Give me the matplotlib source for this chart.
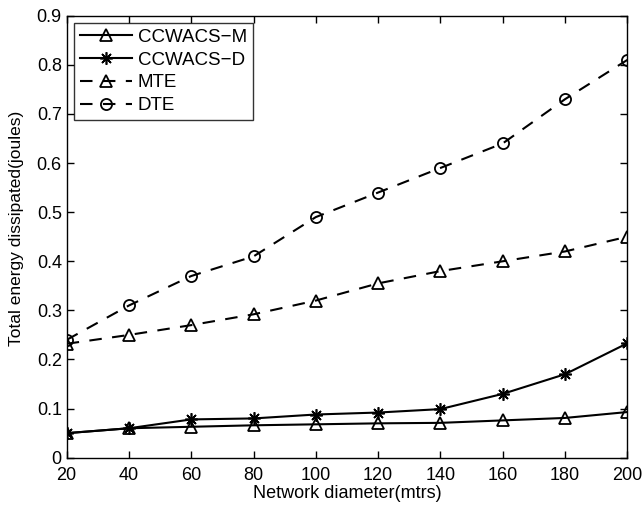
import matplotlib
matplotlib.use("Agg")
import matplotlib.pyplot as plt

plt.rcParams['font.family'] = ['Liberation Sans', 'DejaVu Sans']

x = [20, 40, 60, 80, 100, 120, 140, 160, 180, 200]
ccwacs_m = [0.050, 0.060, 0.063, 0.066, 0.068, 0.070, 0.071, 0.076, 0.081, 0.093]
ccwacs_d = [0.050, 0.060, 0.078, 0.080, 0.088, 0.092, 0.099, 0.130, 0.170, 0.233]
mte = [0.232, 0.250, 0.270, 0.292, 0.320, 0.355, 0.380, 0.400, 0.420, 0.450]
dte = [0.240, 0.310, 0.370, 0.410, 0.490, 0.540, 0.590, 0.640, 0.730, 0.810]
yticks = [0, 0.1, 0.2, 0.3, 0.4, 0.5, 0.6, 0.7, 0.8, 0.9]
ytick_labels = ['0', '0.1', '0.2', '0.3', '0.4', '0.5', '0.6', '0.7', '0.8', '0.9']

fig = plt.figure(figsize=(6.43, 5.07), dpi=100)
ax = fig.add_axes([0.1037, 0.0972, 0.8719, 0.8718])

lw = 1.5
dash = (0, (6, 5))
ax.plot(x, ccwacs_m, color='k', lw=lw, marker='^', ms=9, mfc='none', mew=1.3, label='CCWACS\u2212M')
ax.plot(x, ccwacs_d, color='k', lw=lw, marker=(8, 2, 0), ms=9, mew=1.2, label='CCWACS\u2212D')
ax.plot(x, mte, color='k', lw=lw, ls=dash, marker='^', ms=9, mfc='none', mew=1.3, label='MTE')
ax.plot(x, dte, color='k', lw=lw, ls=dash, marker='o', ms=8, mfc='none', mew=1.3, label='DTE')

ax.set_xlim(20, 200)
ax.set_ylim(0, 0.9)
ax.set_xticks(x)
ax.set_yticks(yticks)
ax.set_yticklabels(ytick_labels)
ax.tick_params(direction='in', top=True, right=True, labelsize=13, length=5, width=1)
ax.tick_params(axis='x', pad=6.5)
ax.tick_params(axis='y', pad=3.5)
for s in ax.spines.values():
    s.set_linewidth(1)
ax.set_xlabel('Network diameter(mtrs)', fontsize=13, labelpad=1)
ax.set_ylabel('Total energy dissipated(joules)', fontsize=12.5, labelpad=5)
ax.yaxis.set_label_coords(-0.077, 0.52)

leg = ax.legend(loc='upper left', fontsize=13.5, frameon=True, fancybox=False, edgecolor='k',
                borderpad=0.3, labelspacing=0.3, handlelength=2.8, handletextpad=0.3,
                borderaxespad=0.4)
leg.get_frame().set_linewidth(1)

fig.savefig('out.png', dpi=100)
